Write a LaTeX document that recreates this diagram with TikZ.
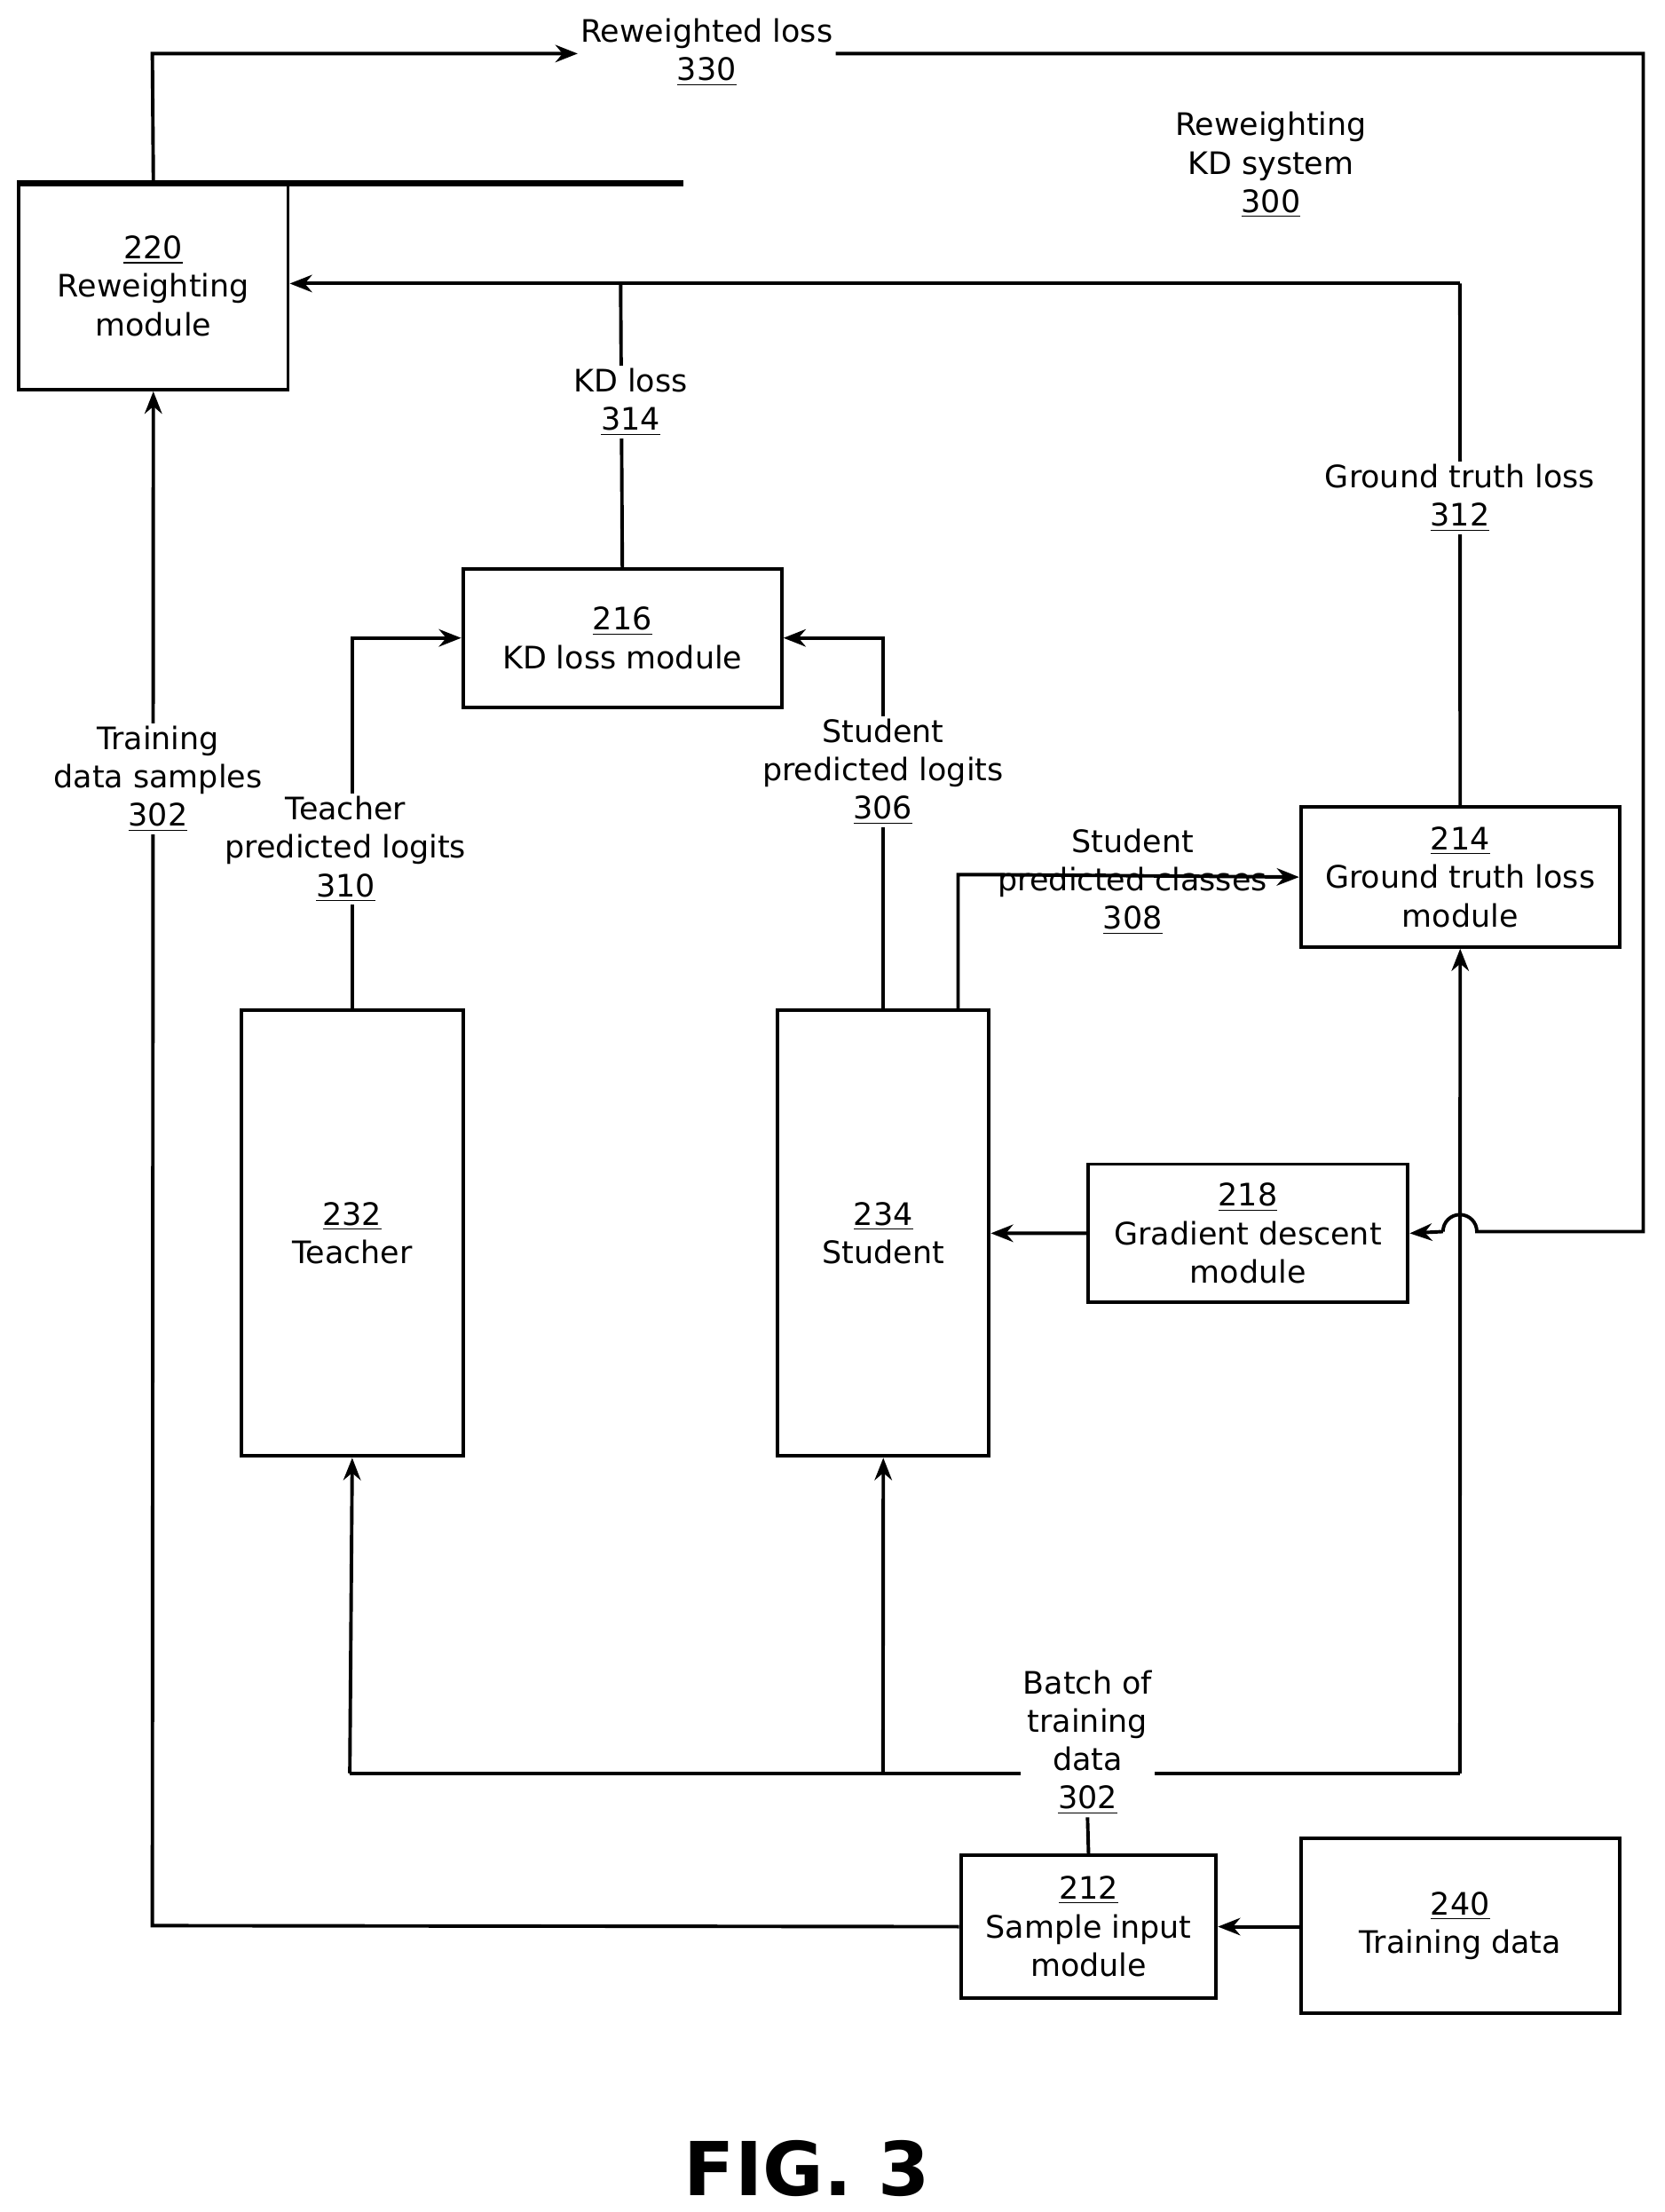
\documentclass[tikz,border=0pt]{standalone}
\usepackage{fontspec}
\setmainfont{DejaVu Sans}
\usetikzlibrary{arrows.meta}
\begin{document}
\begin{tikzpicture}[x=0.02cm,y=-0.02cm,
  every node/.style={font=\fontsize{12.5}{15.5}\selectfont},
  box/.style={draw,line width=1.4pt,inner sep=0pt,align=center},
  lab/.style={fill=white,align=center,inner sep=1pt},
  ln/.style={line width=1.4pt},
  ar/.style={line width=1.4pt,-{Stealth[length=9pt,width=7pt]}}]
\useasboundingbox (0,0) rectangle (1180,1568);
\node[box,minimum width=191\pgflinewidth,anchor=north west] at (12,128) {};
\node[box,minimum width=3.82cm,minimum height=2.94cm,anchor=north west] (m220) at (12,128) {\underline{220}\\Reweighting\\module};
\node[box,minimum width=4.52cm,minimum height=1.96cm,anchor=north west] (m216) at (327,402) {\underline{216}\\KD loss module};
\node[box,minimum width=4.52cm,minimum height=1.98cm,anchor=north west] (m214) at (921,571) {\underline{214}\\Ground truth loss\\module};
\node[box,minimum width=3.14cm,minimum height=6.32cm,anchor=north west] (m232) at (170,715) {\underline{232}\\Teacher};
\node[box,minimum width=3.0cm,minimum height=6.32cm,anchor=north west] (m234) at (550,715) {\underline{234}\\Student};
\node[box,minimum width=4.54cm,minimum height=1.96cm,anchor=north west] (m218) at (770,824) {\underline{218}\\Gradient descent\\module};
\node[box,minimum width=3.62cm,minimum height=2.02cm,anchor=north west] (m212) at (680,1314) {\underline{212}\\Sample input\\module};
\node[box,minimum width=4.52cm,minimum height=2.48cm,anchor=north west] (m240) at (921,1302) {\underline{240}\\Training data};
\node[align=center] (sys) at (901,117) {Reweighting\\KD system\\\underline{300}};
\node[lab] (l330) at (501,37) {Reweighted loss\\\underline{330}};
\node[lab] (l314) at (447,285) {KD loss\\\underline{314}};
\node[lab] (l312) at (1035,353) {Ground truth loss\\\underline{312}};
\node[lab] (l310) at (245,602) {Teacher\\predicted logits\\\underline{310}};
\node[lab] (l306) at (626,547) {Student\\predicted logits\\\underline{306}};
\node[lab] (l308) at (803,625) {Student\\predicted classes\\\underline{308}};
\node[lab] (l302b) at (771,1235) {Batch of\\training\\data\\\underline{302}};
\node[lab] (l302a) at (112,552) {Training\\data samples\\\underline{302}};
\node[font=\bfseries\fontsize{30}{34}\selectfont] (fig) at (572,1537) {FIG. 3};
\coordinate (t1) at (108,38);
\coordinate (r1) at (1165,38);
\coordinate (r2) at (1165,873);
\coordinate (k1) at (440,201);
\coordinate (g1) at (1035,201);
\coordinate (bL) at (248,1257);
\coordinate (bR) at (1035,1257);
\coordinate (bm) at (626,1257);
\coordinate (sL) at (108,1365);
% reweighted loss
\draw[ar] (m220.north) -- (t1) -- (l330.west |- t1);
\draw[ln] (l330.east |- t1) -- (r1) -- (r2) -- (1047,873) arc(0:-180:12);
\draw[ar] (1023,873) -- (m218.east);
% KD / ground truth losses
\draw[ar] (g1) -- (m220.east |- g1);
\draw[ln] (m216.north) -- (k1);
\draw[ln] (m214.north) -- (g1);
% logits
\draw[ar] (m232.north) |- (m216.west);
\draw[ar] (m234.north) |- (m216.east);
\draw[ar] ([xshift=1.06cm]m234.north) |- (l308.west |- 0,620) -- (m214.west);
\draw[ar] (m218.west) -- (m234.east);
% batch
\draw[ln] (m212.north) -- (l302b.south);
\draw[ln] (bL) -- (bR);
\draw[ar] (bL) -- (m232.south);
\draw[ar] (bm) -- (m234.south);
\draw[ar] (bR) -- (m214.south);
\draw[ar] (m240.west |- m212.east) -- (m212.east);
\draw[ar] (m212.west) -- (sL) -- (m220.south);
\node[lab] at (112,552) {Training\\data samples\\\underline{302}};
\node[lab] at (245,602) {Teacher\\predicted logits\\\underline{310}};
\node[lab] at (626,547) {Student\\predicted logits\\\underline{306}};
\node[lab] at (447,285) {KD loss\\\underline{314}};
\node[lab] at (1035,353) {Ground truth loss\\\underline{312}};
\node[lab] at (771,1235) {Batch of\\training\\data\\\underline{302}};
\end{tikzpicture}
\end{document}
